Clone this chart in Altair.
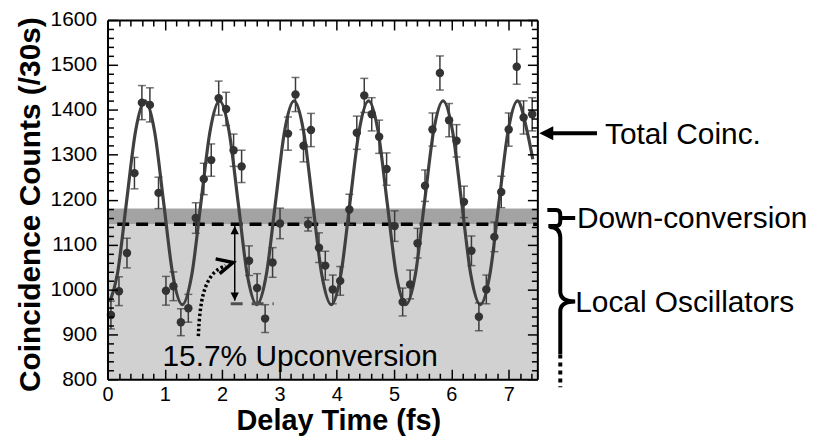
import altair as alt
import pandas as pd

# ---------------- data ----------------
delay = [0.06, 0.20, 0.34, 0.47, 0.60, 0.74, 0.89, 1.02, 1.15, 1.28, 1.41, 1.54, 1.68, 1.81,
         1.94, 2.07, 2.20, 2.34, 2.47, 2.61, 2.75, 2.88, 3.01, 3.15, 3.28, 3.42, 3.50, 3.55,
         3.69, 3.80, 3.93, 4.06, 4.22, 4.35, 4.48, 4.61, 4.74, 4.87, 5.01, 5.15, 5.28, 5.41,
         5.54, 5.67, 5.80, 5.96, 6.09, 6.22, 6.35, 6.48, 6.61, 6.75, 6.87, 7.00, 7.14, 7.26, 7.41]
counts = [943, 996, 1081, 1259, 1416, 1411, 1215, 997, 1007, 927, 958, 1159, 1246, 1288,
          1426, 1402, 1310, 1274, 1064, 1003, 935, 1060, 1147, 1347, 1434, 1320, 1145, 1355,
          1093, 1053, 1000, 1019, 1178, 1349, 1432, 1390, 1340, 1268, 1141, 972, 1011, 1103,
          1231, 1356, 1482, 1377, 1331, 1195, 1086, 939, 1000, 1117, 1217, 1356, 1496, 1383, 1390]
errors = [31, 32, 33, 35, 38, 38, 35, 32, 32, 30, 31, 34, 35, 36,
          38, 37, 36, 36, 33, 32, 31, 33, 34, 37, 38, 36, 15, 37,
          33, 32, 32, 32, 34, 37, 38, 37, 37, 36, 34, 31, 32, 33,
          35, 37, 38, 37, 36, 35, 33, 31, 32, 33, 35, 37, 39, 37, 37]

fit_x = [0.04, 0.17, 0.33, 0.49, 0.655, 0.82, 0.98, 1.14, 1.305, 1.47, 1.63, 1.79, 1.955,
         2.12, 2.28, 2.44, 2.605, 2.77, 2.93, 3.09, 3.255, 3.42, 3.58, 3.74, 3.905, 4.07,
         4.23, 4.39, 4.555, 4.72, 4.88, 5.04, 5.205, 5.37, 5.53, 5.69, 5.855, 6.02, 6.18,
         6.34, 6.505, 6.67, 6.83, 6.99, 7.155, 7.32, 7.42]
fit_y = [972, 1032, 1193, 1353, 1420, 1353, 1193, 1032, 966, 1032, 1193, 1353, 1420,
         1353, 1193, 1032, 966, 1032, 1193, 1353, 1420, 1353, 1193, 1032, 966, 1032,
         1193, 1353, 1420, 1353, 1193, 1032, 966, 1032, 1193, 1353, 1420, 1353, 1193,
         1032, 966, 1032, 1193, 1353, 1420, 1353, 1290]

band_bottom = [800, 1145]
band_top = [1145, 1180]
band_colors = ["#d1d1d1", "#a3a3a3"]
dc_level = 1145          # dashed line level
trough_level = 968       # lower marker of the double arrow

x_major = [0, 1, 2, 3, 4, 5, 6, 7]
y_major = [800, 900, 1000, 1100, 1200, 1300, 1400, 1500, 1600]
x_minor = [round(0.2 * i, 1) for i in range(38) if i % 5 != 0]
y_minor = [800 + 20 * i for i in range(41) if i % 5 != 0]

FONT = "Liberation Sans"
xs = alt.Scale(domain=[0, 7.5], nice=False, zero=False)
ys = alt.Scale(domain=[800, 1600], nice=False, zero=False)


def tick_axis(orient, values, size):
    return alt.Axis(orient=orient, values=values, tickSize=size, offset=-size, labels=False,
                    domain=False, ticks=True, tickColor="black", tickWidth=1.5, grid=False,
                    zindex=2)


def frame_axis(orient):
    return alt.Axis(orient=orient, labels=False, ticks=False, domain=True, domainColor="black",
                    domainWidth=2, grid=False, zindex=2)


NOAX = None

# ---------------- layers ----------------
bands = pd.DataFrame({"x0": [0, 0], "x1": [7.5, 7.5], "y0": band_bottom, "y1": band_top,
                      "c": band_colors})
band_layer = alt.Chart(bands).mark_rect().encode(
    x=alt.X("x0:Q", scale=xs, title="Delay Time (fs)",
            axis=alt.Axis(orient="bottom", values=x_major, ticks=False, domain=True,
                          domainColor="black", domainWidth=2, labelFontSize=20, labelFont=FONT,
                          labelColor="black", labelPadding=5, labelFlush=False,
                          labelOverlap=False, grid=False, zindex=2, format="d",
                          titleFont=FONT, titleFontSize=29, titleFontWeight="bold",
                          titleColor="black", titleX=232, titleY=51,
                          titleBaseline="alphabetic", titleAlign="center")),
    x2="x1:Q",
    y=alt.Y("y0:Q", scale=ys, title="Coincidence Counts (/30s)",
            axis=alt.Axis(orient="left", values=y_major, ticks=False, domain=True,
                          domainColor="black", domainWidth=2, labelFontSize=21, labelFont=FONT,
                          labelColor="black", labelPadding=11, labelOverlap=False, grid=False,
                          format="d",
                          zindex=2, titleFont=FONT, titleFontSize=30, titleFontWeight="bold",
                          titleColor="black", titleAngle=270, titleX=-68, titleY=185,
                          titleBaseline="alphabetic", titleAlign="center")),
    y2="y1:Q",
    color=alt.Color("c:N", scale=None),
)

dash_df = pd.DataFrame({"x0": [0.17], "x1": [7.5], "y": [dc_level]})
dash_layer = alt.Chart(dash_df).mark_rule(color="black", strokeWidth=3.5,
                                          strokeDash=[12, 7]).encode(
    x=alt.X("x0:Q", scale=xs, title=None, axis=tick_axis("bottom", x_major, 10)),
    x2="x1:Q",
    y=alt.Y("y:Q", scale=ys, title=None, axis=tick_axis("left", y_major, 10)),
)

fit_df = pd.DataFrame({"x": fit_x, "y": fit_y})
fit_layer = alt.Chart(fit_df).mark_line(color="#404040", strokeWidth=3.2,
                                        interpolate="monotone").encode(
    x=alt.X("x:Q", scale=xs, title=None, axis=tick_axis("bottom", x_minor, 6)),
    y=alt.Y("y:Q", scale=ys, title=None, axis=tick_axis("left", y_minor, 6)),
)

pts = pd.DataFrame({"x": delay, "y": counts, "e": errors})
pts["lo"] = pts["y"] - pts["e"]
pts["hi"] = pts["y"] + pts["e"]

err_layer = alt.Chart(pts).mark_rule(color="#3a3a3a", strokeWidth=1.5).encode(
    x=alt.X("x:Q", scale=xs, title=None, axis=tick_axis("top", x_major, 10)),
    y=alt.Y("lo:Q", scale=ys, title=None, axis=tick_axis("right", y_major, 10)),
    y2="hi:Q",
)

cap_layer = alt.Chart(pts).transform_fold(["lo", "hi"], as_=["k", "v"]).mark_tick(
    color="#3a3a3a", orient="horizontal", size=8, thickness=1.5).encode(
    x=alt.X("x:Q", scale=xs, title=None, axis=tick_axis("top", x_minor, 6)),
    y=alt.Y("v:Q", scale=ys, title=None, axis=tick_axis("right", y_minor, 6)),
)

pt_layer = alt.Chart(pts).mark_circle(color="#333333", size=72, opacity=1).encode(
    x=alt.X("x:Q", scale=xs, title=None, axis=frame_axis("top")),
    y=alt.Y("y:Q", scale=ys, title=None, axis=frame_axis("right")),
)

# ---------------- annotations ----------------
def enc(chart, xf="x", yf="y"):
    return chart.encode(x=alt.X(f"{xf}:Q", scale=xs, axis=NOAX),
                        y=alt.Y(f"{yf}:Q", scale=ys, axis=NOAX))


arrow_df = pd.DataFrame({"x": [2.22], "y": [975], "y1": [1141]})
arrow_rule = alt.Chart(arrow_df).mark_rule(color="black", strokeWidth=1.5).encode(
    x=alt.X("x:Q", scale=xs, axis=NOAX), y=alt.Y("y:Q", scale=ys, axis=NOAX), y2="y1:Q")

UP = "M 0 -1 L 1 1 L -1 1 Z"
DOWN = "M 0 1 L 1 -1 L -1 -1 Z"
LEFT = "M -1 0 L 1 -1 L 1 1 Z"
heads_df = pd.DataFrame({"x": [2.22, 2.22, 7.656], "y": [1132, 984, 1348],
                         "shape": [UP, DOWN, LEFT], "s": [70, 70, 196]})
heads = alt.Chart(heads_df).mark_point(filled=True, color="black", opacity=1).encode(
    x=alt.X("x:Q", scale=xs, axis=NOAX), y=alt.Y("y:Q", scale=ys, axis=NOAX),
    shape=alt.Shape("shape:N", scale=None), size=alt.Size("s:Q", scale=None))

trough_df = pd.DataFrame({"x": [2.15], "x1": [2.90], "y": [trough_level]})
trough_rule = alt.Chart(trough_df).mark_rule(color="#505050", strokeWidth=3,
                                             strokeDash=[12, 9]).encode(
    x=alt.X("x:Q", scale=xs, axis=NOAX), x2="x1:Q", y=alt.Y("y:Q", scale=ys, axis=NOAX))

curve_df = pd.DataFrame({"x": [1.585, 1.60, 1.64, 1.70, 1.80, 1.92, 2.06],
                         "y": [896, 935, 975, 1005, 1030, 1045, 1053]})
curve = enc(alt.Chart(curve_df).mark_line(color="black", strokeWidth=3.5,
                                          strokeDash=[2.5, 2.5], interpolate="basis"))

chev_df = pd.DataFrame({"x": [1.887, 2.19, 1.957], "y": [1068, 1060, 1035], "o": [0, 1, 2]})
chev = alt.Chart(chev_df).mark_line(color="black", strokeWidth=3.5).encode(
    x=alt.X("x:Q", scale=xs, axis=NOAX), y=alt.Y("y:Q", scale=ys, axis=NOAX), order="o:Q")

total_df = pd.DataFrame({"x": [7.76], "x1": [8.54], "y": [1348]})
total_rule = alt.Chart(total_df).mark_rule(color="black", strokeWidth=4).encode(
    x=alt.X("x:Q", scale=xs, axis=NOAX), x2="x1:Q", y=alt.Y("y:Q", scale=ys, axis=NOAX))

SMALL_BRACE = ("M -0.13 -0.08 L -0.04 -0.08 Q 0 -0.08 0 -0.03 L 0 0.03 Q 0 0.08 -0.04 0.08 "
               "L -0.12 0.08 M 0 0 L 0.15 0")
BIG_BRACE = ("M -0.11 -0.75 Q 0 -0.75 0 -0.64 L 0 -0.1 Q 0 0 0.15 0 Q 0 0 0 0.1 L 0 0.53")
brace_df = pd.DataFrame({"x": [7.90, 7.90], "y": [1159, 973], "shape": [SMALL_BRACE, BIG_BRACE]})
braces = alt.Chart(brace_df).mark_point(filled=False, color="black", strokeWidth=4, size=40000,
                                        opacity=1).encode(
    x=alt.X("x:Q", scale=xs, axis=NOAX), y=alt.Y("y:Q", scale=ys, axis=NOAX),
    shape=alt.Shape("shape:N", scale=None))

dots_df = pd.DataFrame({"x": [7.90], "y": [855], "y1": [782]})
dots = alt.Chart(dots_df).mark_rule(color="black", strokeWidth=4, strokeDash=[4, 4]).encode(
    x=alt.X("x:Q", scale=xs, axis=NOAX), y=alt.Y("y:Q", scale=ys, axis=NOAX), y2="y1:Q")

labels_df = pd.DataFrame({
    "x": [0.96, 8.68, 8.19, 8.16],
    "y": [829, 1324, 1137, 949],
    "t": ["15.7% Upconversion", "Total Coinc.", "Down-conversion", "Local Oscillators"],
})
labels = alt.Chart(labels_df).mark_text(align="left", baseline="alphabetic", fontSize=30,
                                        font=FONT, color="black").encode(
    x=alt.X("x:Q", scale=xs, axis=NOAX), y=alt.Y("y:Q", scale=ys, axis=NOAX), text="t:N")

chart = alt.layer(
    band_layer, dash_layer, fit_layer, err_layer, cap_layer, pt_layer,
    arrow_rule, heads, trough_rule, curve, chev, total_rule, braces, dots, labels,
).resolve_axis(x="independent", y="independent").properties(
    width=432, height=361,
    padding={"left": 100, "top": 11, "right": 272, "bottom": 58},
    autosize=alt.AutoSizeParams(type="none"),
).configure_view(stroke=None).configure_axis(grid=False)

chart.save("out.html", embed_options={"renderer": "svg", "actions": False})
